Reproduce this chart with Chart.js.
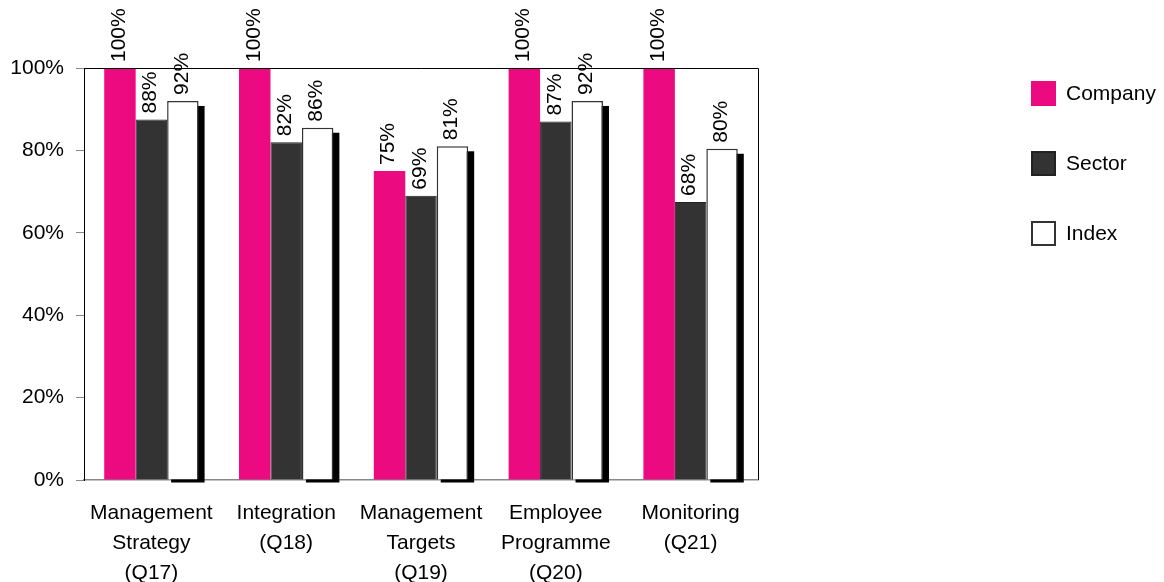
<!DOCTYPE html>
<html>
<head>
<meta charset="utf-8">
<script src="https://cdn.jsdelivr.net/npm/chart.js@4"></script>
<style>
  body { margin: 0; background: #fff; }
  #wrap { position: relative; width: 1164px; height: 582px; }
  #legend { position: absolute; left: 1031px; top: 80px; font: 21px "Liberation Sans", Arial, sans-serif; color: #000; }
  #legend div { display: flex; align-items: center; height: 26px; margin-bottom: 44px; }
  #legend span.box { width: 25px; height: 25px; box-sizing: border-box; margin-right: 10px; }
</style>
</head>
<body>
<div id="wrap">
  <canvas id="myChart" width="1164" height="582"></canvas>
  <div id="legend"></div>
</div>
<script>
const categories = [
  ['Management', 'Strategy', '(Q17)'],
  ['Integration', '(Q18)'],
  ['Management', 'Targets', '(Q19)'],
  ['Employee', 'Programme', '(Q20)'],
  ['Monitoring', '(Q21)']
];
const company = [100, 100, 75, 100, 100];
const sector = [87.5, 82, 69, 87, 67.5];
const index = [92, 85.5, 81, 92, 80.4];

const FONT = '"Liberation Sans", Arial, sans-serif';

// black drop shadow behind the Index bars
const shadowPlugin = {
  id: 'shadow',
  beforeDatasetDraw(chart, args) {
    if (args.index !== 2) return;
    const ctx = chart.ctx;
    ctx.save();
    ctx.fillStyle = '#000';
    args.meta.data.forEach(bar => {
      const w = bar.width;
      ctx.fillRect(bar.x - w / 2 + 4, bar.y + 5, w + 2, bar.base - bar.y - 2);
    });
    ctx.restore();
  }
};

// rotated value labels above every bar, plus the box round the plot
const labelPlugin = {
  id: 'valueLabels',
  afterDatasetsDraw(chart) {
    const ctx = chart.ctx;
    const a = chart.chartArea;
    ctx.save();
    ctx.strokeStyle = '#000';
    ctx.lineWidth = 1;
    ctx.beginPath();
    ctx.moveTo(a.left, a.top + 0.5);
    ctx.lineTo(a.right + 0.5, a.top + 0.5);
    ctx.lineTo(a.right + 0.5, a.bottom);
    ctx.stroke();
    ctx.fillStyle = '#000';
    ctx.font = '21px ' + FONT;
    ctx.textAlign = 'left';
    ctx.textBaseline = 'middle';
    chart.data.datasets.forEach((ds, i) => {
      chart.getDatasetMeta(i).data.forEach((bar, j) => {
        ctx.save();
        ctx.translate(bar.x - 1, bar.y - 6);
        ctx.rotate(-Math.PI / 2);
        ctx.fillText(Math.round(ds.data[j]) + '%', 0, 0);
        ctx.restore();
      });
    });
    ctx.restore();
  }
};

const data = {
  labels: categories,
  datasets: [{
    label: 'Company',
    data: company,
    backgroundColor: '#EC0A80',
    borderWidth: 0
  }, {
    label: 'Sector',
    data: sector,
    backgroundColor: '#333333',
    borderColor: '#222222',
    borderWidth: 1
  }, {
    label: 'Index',
    data: index,
    backgroundColor: '#ffffff',
    borderColor: '#333333',
    borderWidth: 1.5
  }]
};

const config = {
  type: 'bar',
  data: data,
  options: {
    responsive: false,
    animation: false,
    layout: { padding: { top: 68, right: 406, left: 0, bottom: 0 } },
    datasets: { bar: { categoryPercentage: 0.7, barPercentage: 1 } },
    plugins: { legend: { display: false }, tooltip: { enabled: false } },
    scales: {
      x: {
        grid: { display: false, drawTicks: false },
        border: { color: '#888', width: 1.5 },
        ticks: { color: '#000', font: { family: FONT, size: 21, lineHeight: 1.43 }, padding: 18, maxRotation: 0, autoSkip: false },
        afterFit: s => { s.height = 102; }
      },
      y: {
        min: 0,
        max: 100,
        grid: { drawOnChartArea: false, drawTicks: true, tickLength: 8, color: '#888' },
        border: { color: '#000', width: 1 },
        ticks: { stepSize: 20, color: '#000', font: { family: FONT, size: 21 }, padding: 12, callback: v => v + '%' },
        afterFit: s => { s.width = 84; }
      }
    }
  },
  plugins: [shadowPlugin, labelPlugin]
};

const myChart = new Chart(document.getElementById('myChart'), config);

// legend built from the datasets
const legend = document.getElementById('legend');
data.datasets.forEach(ds => {
  const row = document.createElement('div');
  const box = document.createElement('span');
  box.className = 'box';
  box.style.background = ds.backgroundColor;
  if (ds.borderWidth) box.style.border = '2px solid ' + ds.borderColor;
  row.appendChild(box);
  row.appendChild(document.createTextNode(ds.label));
  legend.appendChild(row);
});
</script>
</body>
</html>
